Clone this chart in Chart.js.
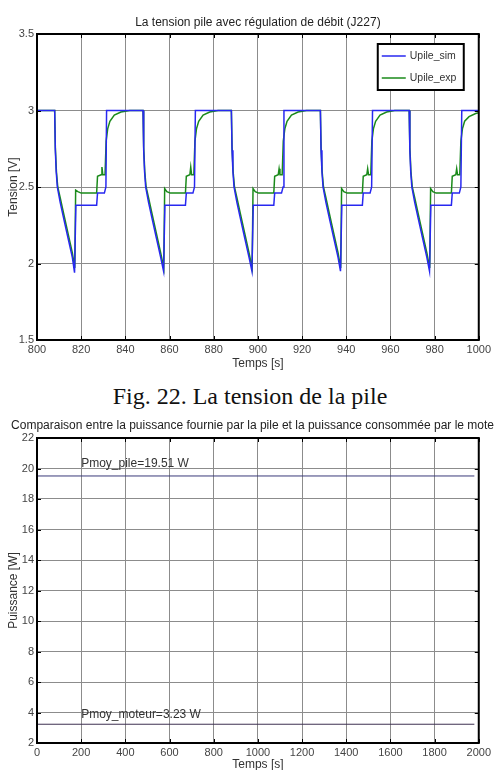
<!DOCTYPE html>
<html>
<head>
<meta charset="utf-8">
<script src="https://cdn.jsdelivr.net/npm/chart.js@4"></script>
<style>
body { margin: 0; background: #fff; width: 494px; height: 770px; overflow: hidden; position: relative; }
#w1 { position: absolute; left: 0; top: 0; width: 494px; height: 372px; }
#w2 { position: absolute; left: 0; top: 400px; width: 494px; height: 372px; }
#cap { position: absolute; left: 0; top: 383px; width: 500px; text-align: center;
       font: 24px "Liberation Serif", "Times New Roman", serif; color: #111; }
</style>
</head>
<body>
<div id="w1"><canvas id="c1"></canvas></div>
<div id="cap">Fig. 22. La tension de la pile</div>
<div id="w2"><canvas id="c2"></canvas></div>
<script>
// --- data, chart 1 (tension) ---
const title1 = 'La tension pile avec régulation de débit (J227)';
const simLabel = 'Upile_sim';
const expLabel = 'Upile_exp';

const simTime = [
  800, 808, 808.3, 808.7, 809.2, 810.5, 812, 814, 816, 817, 817.6, 827, 827.4, 830.5, 831.2, 831.5,
  848, 848.3, 848.7, 849.2, 850.5, 852, 854, 856, 857.3, 857.9, 867.2, 867.6, 870.6, 871.3, 871.7,
  888, 888.3, 888.7, 889.2, 890.5, 892, 894, 896, 897.3, 897.9, 907.2, 907.6, 910.7, 911.4, 911.8,
  928.3, 928.6, 929, 929.5, 930.8, 932.3, 934.3, 936.3, 937.4, 938, 947.3, 947.7, 950.8, 951.5, 951.9,
  968.5, 968.8, 969.2, 969.7, 971, 972.5, 974.5, 976.5, 977.7, 978.3, 987.6, 988, 991.2, 991.9, 992.3,
  1000
];
const simVolt = [
  3.0, 3.0, 2.74, 2.6, 2.5, 2.4, 2.3, 2.17, 2.04, 1.94, 2.38, 2.38, 2.46, 2.46, 2.5, 3.0,
  3.0, 2.74, 2.6, 2.5, 2.4, 2.3, 2.17, 2.04, 1.95, 2.38, 2.38, 2.46, 2.46, 2.5, 3.0,
  3.0, 2.74, 2.6, 2.5, 2.4, 2.3, 2.17, 2.04, 1.95, 2.38, 2.38, 2.46, 2.46, 2.5, 3.0,
  3.0, 2.74, 2.6, 2.5, 2.4, 2.3, 2.17, 2.04, 1.95, 2.38, 2.38, 2.46, 2.46, 2.5, 3.0,
  3.0, 2.74, 2.6, 2.5, 2.4, 2.3, 2.17, 2.04, 1.95, 2.38, 2.38, 2.46, 2.46, 2.5, 3.0,
  3.0
];

const expTime = [
  800, 808, 808.3, 808.8, 809.4, 810.5, 812, 814, 816, 817.1, 817.5, 818.5, 820, 827, 827.4, 829, 829.4, 829.8, 830.8, 831.3, 832, 833, 835, 838, 842,
  848, 848.3, 848.8, 849.4, 850.5, 852, 854, 856, 857.4, 857.8, 858.8, 860.3, 867.2, 867.6, 869.2, 869.6, 870, 871, 871.5, 872.2, 873.2, 875.2, 878.2, 882,
  888, 888.3, 888.8, 889.4, 890.5, 892, 894, 896, 897.4, 897.8, 898.8, 900.3, 907.2, 907.6, 909.2, 909.6, 910, 911, 911.5, 912.2, 913.2, 915.2, 918.2, 922,
  928.3, 928.6, 929.1, 929.7, 930.8, 932.3, 934.3, 936.3, 937.5, 937.9, 938.9, 940.4, 947.3, 947.7, 949.3, 949.7, 950.1, 951.1, 951.6, 952.3, 953.3, 955.3, 958.3, 962,
  968.5, 968.8, 969.3, 969.9, 971, 972.5, 974.5, 976.5, 977.8, 978.2, 979.2, 980.7, 987.6, 988, 989.6, 990, 990.4, 991.4, 991.9, 992.6, 993.6, 995.6, 998.6, 1000
];
const expVolt = [
  3.0, 3.0, 2.76, 2.6, 2.5, 2.43, 2.33, 2.2, 2.07, 1.97, 2.48, 2.47, 2.46, 2.46, 2.57, 2.58, 2.63, 2.58, 2.58, 2.8, 2.88, 2.93, 2.97, 2.99, 3.0,
  3.0, 2.76, 2.6, 2.5, 2.43, 2.33, 2.2, 2.07, 1.97, 2.49, 2.47, 2.46, 2.46, 2.57, 2.58, 2.63, 2.58, 2.58, 2.8, 2.88, 2.93, 2.97, 2.99, 3.0,
  3.0, 2.76, 2.6, 2.5, 2.43, 2.33, 2.2, 2.07, 1.97, 2.49, 2.47, 2.46, 2.46, 2.57, 2.58, 2.62, 2.58, 2.58, 2.8, 2.88, 2.93, 2.97, 2.99, 3.0,
  3.0, 2.76, 2.6, 2.5, 2.43, 2.33, 2.2, 2.07, 1.97, 2.49, 2.47, 2.46, 2.46, 2.57, 2.58, 2.62, 2.58, 2.58, 2.8, 2.88, 2.93, 2.97, 2.99, 3.0,
  3.0, 2.76, 2.6, 2.5, 2.43, 2.33, 2.2, 2.07, 1.97, 2.49, 2.47, 2.46, 2.46, 2.57, 2.58, 2.62, 2.58, 2.58, 2.8, 2.88, 2.93, 2.96, 2.98, 2.985
];

// --- data, chart 2 (puissance) ---
const title2 = 'Comparaison entre la puissance fournie par la pile et la puissance consommée par le moteur';
const lineTime = [0, 1980];
const pilePower = [19.51, 19.51];
const moteurPower = [3.23, 3.23];
const noteText = ['Pmoy_pile=19.51 W', 'Pmoy_moteur=3.23 W'];
const noteX = [200, 200];
const noteY = [20.3, 3.85];

const FONT = '"Liberation Sans", Arial, sans-serif';
const pts = (xs, ys) => xs.map((x, i) => ({ x: x, y: ys[i] }));

// frame, matlab style ticks, title, inner legend and text notes
const framePlugin = {
  id: 'frame',
  afterDraw(chart, args, opts) {
    const { ctx, chartArea: a } = chart;
    const xs = chart.scales.x, ys = chart.scales.y;
    ctx.save();
    ctx.strokeStyle = '#000';
    ctx.lineWidth = 1;
    ctx.beginPath();
    ys.ticks.forEach(t => {
      const y = Math.round(ys.getPixelForValue(t.value)) + 0.5;
      ctx.moveTo(a.left, y); ctx.lineTo(a.left + 4, y);
      ctx.moveTo(a.right - 4, y); ctx.lineTo(a.right, y);
    });
    xs.ticks.forEach(t => {
      const x = Math.round(xs.getPixelForValue(t.value)) + 0.5;
      ctx.moveTo(x, a.bottom); ctx.lineTo(x, a.bottom - 4);
      ctx.moveTo(x, a.top); ctx.lineTo(x, a.top + 4);
    });
    ctx.stroke();
    ctx.lineWidth = 2;
    ctx.strokeRect(a.left, a.top, a.width, a.height);

    ctx.fillStyle = '#222';
    ctx.font = '12px ' + FONT;
    ctx.textAlign = 'center';
    ctx.textBaseline = 'middle';
    ctx.fillText(opts.title, (a.left + a.right) / 2, opts.titleY);

    if (opts.notes) {
      ctx.textAlign = 'left';
      ctx.fillStyle = '#333';
      opts.notes.forEach(n => {
        ctx.fillText(n.text, xs.getPixelForValue(n.x), ys.getPixelForValue(n.y));
      });
    }

    if (opts.legend) {
      const bw = 86, bh = 46;
      const bx = a.right - 15 - bw, by = a.top + 10;
      ctx.fillStyle = '#fff';
      ctx.fillRect(bx, by, bw, bh);
      ctx.lineWidth = 2;
      ctx.strokeStyle = '#000';
      ctx.strokeRect(bx, by, bw, bh);
      chart.data.datasets.forEach((d, i) => {
        const y = by + 12 + i * 22;
        ctx.strokeStyle = d.borderColor;
        ctx.lineWidth = 1.5;
        ctx.beginPath();
        ctx.moveTo(bx + 4, y); ctx.lineTo(bx + 28, y);
        ctx.stroke();
        ctx.fillStyle = '#333';
        ctx.font = '10.5px ' + FONT;
        ctx.textAlign = 'left';
        ctx.fillText(d.label, bx + 32, y);
      });
    }
    ctx.restore();
  }
};

function axisOpts(min, max, step, title, fit, titlePad) {
  return {
    type: 'linear', min: min, max: max,
    ticks: { stepSize: step, color: '#444', font: { family: FONT, size: 11 }, padding: 3,
             autoSkip: false, maxRotation: 0, callback: v => String(v) },
    grid: { color: '#8c8c8c', lineWidth: 1, drawTicks: false },
    border: { display: false },
    title: { display: true, text: title, color: '#333', font: { family: FONT, size: 12 }, padding: titlePad },
    afterFit: fit
  };
}

new Chart(document.getElementById('c1'), {
  type: 'line',
  data: {
    datasets: [
      { label: simLabel, data: pts(simTime, simVolt), borderColor: '#2828f0', borderWidth: 1.5, pointRadius: 0 },
      { label: expLabel, data: pts(expTime, expVolt), borderColor: '#1a8a1a', borderWidth: 1.5, pointRadius: 0 }
    ]
  },
  options: {
    responsive: true, maintainAspectRatio: false, animation: false,
    layout: { padding: { top: 34, right: 11, left: 0, bottom: 0 } },
    scales: {
      x: axisOpts(800, 1000, 20, 'Temps [s]', s => { s.height = 32; }, { top: 0, bottom: 1 }),
      y: axisOpts(1.5, 3.5, 0.5, 'Tension [V]', s => { s.width = 37; }, { top: 6, bottom: 0 })
    },
    plugins: {
      legend: { display: false }, tooltip: { enabled: false },
      frame: { title: title1, titleY: 23, legend: true }
    }
  },
  plugins: [framePlugin]
});

new Chart(document.getElementById('c2'), {
  type: 'line',
  data: {
    datasets: [
      { label: 'Pmoy_pile', data: pts(lineTime, pilePower), borderColor: '#3a3a7a', borderWidth: 1, pointRadius: 0 },
      { label: 'Pmoy_moteur', data: pts(lineTime, moteurPower), borderColor: '#3e3050', borderWidth: 1, pointRadius: 0 }
    ]
  },
  options: {
    responsive: true, maintainAspectRatio: false, animation: false,
    layout: { padding: { top: 38, right: 11, left: 0, bottom: 0 } },
    scales: {
      x: axisOpts(0, 2000, 200, 'Temps [s]', s => { s.height = 29; }, { top: 0, bottom: 0 }),
      y: axisOpts(2, 22, 2, 'Puissance [W]', s => { s.width = 37; }, { top: 6, bottom: 0 })
    },
    plugins: {
      legend: { display: false }, tooltip: { enabled: false },
      frame: { title: title2, titleY: 26,
               notes: noteText.map((t, i) => ({ text: t, x: noteX[i], y: noteY[i] })) }
    }
  },
  plugins: [framePlugin]
});
</script>
</body>
</html>
